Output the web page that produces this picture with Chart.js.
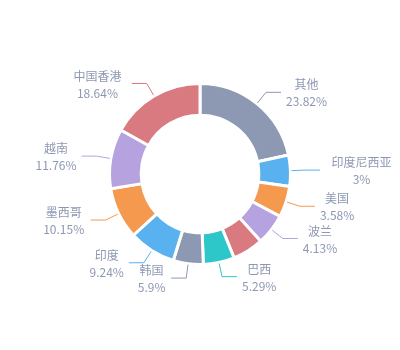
<!DOCTYPE html>
<html>
<head>
<meta charset="utf-8">
<script src="https://cdn.jsdelivr.net/npm/chart.js@4/dist/chart.umd.min.js"></script>
<style>
  html, body { margin: 0; padding: 0; background: #ffffff; }
  #wrap { width: 400px; height: 350px; }
</style>
</head>
<body>
<div id="wrap"><canvas id="c" width="400" height="350"></canvas></div>
<script>
// ---- data ----
const categories = ['其他', '印度尼西亚', '美国', '波兰', '', '巴西', '韩国', '印度', '墨西哥', '越南', '中国香港'];
// share in percent; the unlabeled slice is the remainder to 100 %
const shares = [23.82, 3, 3.58, 4.13, 4.49, 5.29, 5.9, 9.24, 10.15, 11.76, 18.64];
const sliceColors = ['#8d98b3', '#5ab1ef', '#f5994e', '#b6a2de', '#d87a80', '#2ec7c9',
                     '#8d98b3', '#5ab1ef', '#f5994e', '#b6a2de', '#d87a80'];
const minSliceAngle = 20; // degrees, small slices are widened to this angle
const textColor = '#8d98b3';

// slice weights with a minimum angle (like a pie "minAngle" option)
function weightsWithMinAngle(values, minDeg) {
  const total = values.reduce((a, b) => a + b, 0);
  const unit0 = 360 / total;
  let rest = 360, largeSum = 0;
  const small = values.map(v => {
    if (v * unit0 < minDeg) { rest -= minDeg; return true; }
    largeSum += v; return false;
  });
  const unit = rest / largeSum;
  return values.map((v, i) => small[i] ? minDeg : v * unit);
}
const sliceWeights = weightsWithMinAngle(shares, minSliceAngle);
const shareLabels = shares.map(v => String(v) + '%');

const outerLabels = {
  id: 'outerLabels',
  afterDatasetsDraw(chart) {
    const ctx = chart.ctx;
    const meta = chart.getDatasetMeta(0);
    ctx.save();
    ctx.font = '12px "Noto Sans CJK SC", sans-serif';
    meta.data.forEach((arc, i) => {
      const name = categories[i];
      if (!name) return;
      const p = arc.getProps(['x', 'y', 'startAngle', 'endAngle', 'outerRadius'], true);
      const mid = (p.startAngle + p.endAngle) / 2;
      const ux = Math.cos(mid), uy = Math.sin(mid);
      const r0 = p.outerRadius + 1, r1 = p.outerRadius + 14.5;
      const x0 = p.x + ux * r0, y0 = p.y + uy * r0;
      const x1 = p.x + ux * r1, y1 = p.y + uy * r1;
      const dir = ux >= 0 ? 1 : -1;
      const x2 = x1 + dir * 15;
      ctx.strokeStyle = sliceColors[i];
      ctx.lineWidth = 1;
      ctx.beginPath();
      ctx.moveTo(x0, y0); ctx.lineTo(x1, y1); ctx.lineTo(x2, y1);
      ctx.stroke();
      const lines = [name, shareLabels[i]];
      const widths = lines.map(t => ctx.measureText(t).width * (/[\u4e00-\u9fff]/.test(t) ? 1.22 : 1));
      const w = Math.max(...widths);
      const left = dir > 0 ? x2 + 5 : x2 - 5 - w;
      const cxText = left + w / 2;
      ctx.fillStyle = textColor;
      ctx.textAlign = 'center';
      ctx.textBaseline = 'middle';
      ctx.fillText(lines[0], cxText, y1 - 7.5);
      ctx.fillText(lines[1], cxText, y1 + 9.5);
    });
    ctx.restore();
  }
};

new Chart(document.getElementById('c'), {
  type: 'doughnut',
  data: {
    labels: categories,
    datasets: [{
      data: sliceWeights,
      backgroundColor: sliceColors,
      borderColor: '#ffffff',
      borderWidth: 3,
      hoverOffset: 0
    }]
  },
  options: {
    responsive: false,
    animation: false,
    cutout: '65%',
    layout: { padding: { left: 108, right: 108, top: 82, bottom: 84 } },
    plugins: { legend: { display: false }, tooltip: { enabled: false } }
  },
  plugins: [outerLabels]
});
</script>
</body>
</html>
